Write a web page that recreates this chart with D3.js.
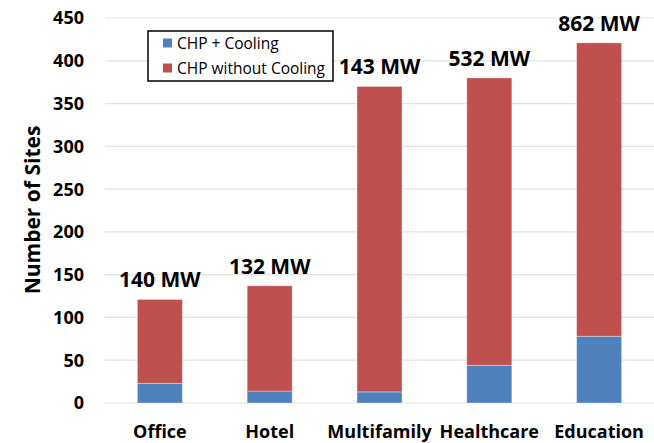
<!DOCTYPE html>
<html>
<head>
<meta charset="utf-8">
<script src="https://cdn.jsdelivr.net/npm/d3@7"></script>
<style>
  body { margin: 0; background: #fff; }
  text { font-family: "Open Sans", sans-serif; }
</style>
</head>
<body>
<script>
'use strict';

var categories = ["Office", "Hotel", "Multifamily", "Healthcare", "Education"];
var withCooling = [23, 14, 13, 44, 78];
var withoutCooling = [98, 123, 357, 336, 343];
var capacityLabels = ["140 MW", "132 MW", "143 MW", "532 MW", "862 MW"];
var yTicks = [0, 50, 100, 150, 200, 250, 300, 350, 400, 450];
var seriesNames = ["CHP + Cooling", "CHP without Cooling"];
var seriesColors = ["#4f81bd", "#c0504d"];

var width = 654,
    height = 443;

var margin = { top: 18, right: 0, bottom: 40, left: 105 };

var svg = d3.select("body")
    .append("svg")
    .attr("width", width)
    .attr("height", height);

var x = d3.scaleBand()
    .domain(categories)
    .range([margin.left, width - margin.right])
    .paddingInner(0.59)
    .paddingOuter(0.295);

var y = d3.scaleLinear()
    .domain([0, 450])
    .range([height - margin.bottom, margin.top]);

// gridlines
svg.append("g")
    .selectAll("line")
    .data(yTicks)
    .enter()
    .append("line")
    .attr("x1", margin.left)
    .attr("x2", width)
    .attr("y1", d => y(d))
    .attr("y2", d => y(d))
    .attr("stroke", "#e3e3e3")
    .attr("stroke-width", 1.2);

// y tick labels
svg.append("g")
    .selectAll("text")
    .data(yTicks)
    .enter()
    .append("text")
    .attr("x", 84)
    .attr("y", d => y(d))
    .attr("dy", "0.36em")
    .attr("text-anchor", "end")
    .attr("font-size", 18)
    .attr("font-weight", "bold")
    .attr("fill", "#000")
    .text(d => d);

// stacked bars
var rows = categories.map((c, i) => ({ cat: c, cool: withCooling[i], noCool: withoutCooling[i] }));
var stacked = d3.stack().keys(["cool", "noCool"])(rows);

svg.append("g")
    .selectAll("g")
    .data(stacked)
    .enter()
    .append("g")
    .attr("fill", (d, i) => seriesColors[i])
    .selectAll("rect")
    .data(d => d)
    .enter()
    .append("rect")
    .attr("x", d => x(d.data.cat))
    .attr("width", x.bandwidth())
    .attr("y", d => y(d[1]))
    .attr("height", d => y(d[0]) - y(d[1]))
    .attr("stroke", "rgba(255,255,255,0.35)")
    .attr("stroke-width", 1);

// MW labels above bars
svg.append("g")
    .selectAll("text")
    .data(rows)
    .enter()
    .append("text")
    .attr("x", d => x(d.cat) + x.bandwidth() / 2)
    .attr("y", d => y(d.cool + d.noCool) - 12)
    .attr("text-anchor", "middle")
    .attr("font-size", 21)
    .attr("font-weight", "bold")
    .attr("fill", "#000")
    .text((d, i) => capacityLabels[i]);

// category labels
svg.append("g")
    .selectAll("text")
    .data(categories)
    .enter()
    .append("text")
    .attr("x", d => x(d) + x.bandwidth() / 2)
    .attr("y", 438)
    .attr("text-anchor", "middle")
    .attr("font-size", 18)
    .attr("font-weight", "bold")
    .attr("fill", "#000")
    .text(d => d);

// y axis title
svg.append("text")
    .attr("transform", "translate(40," + 210 + ") rotate(-90)")
    .attr("text-anchor", "middle")
    .attr("font-size", 21)
    .attr("font-weight", "bold")
    .attr("fill", "#000")
    .text("Number of Sites");

// legend
var legend = svg.append("g").attr("transform", "translate(148,31)");
legend.append("rect")
    .attr("width", 185)
    .attr("height", 50)
    .attr("fill", "#fff")
    .attr("stroke", "#000")
    .attr("stroke-width", 1.5);

var items = legend.selectAll("g.item")
    .data(seriesNames)
    .enter()
    .append("g")
    .attr("class", "item")
    .attr("transform", (d, i) => "translate(15," + (12 + i * 25) + ")");

items.append("rect")
    .attr("y", -4.5)
    .attr("width", 9)
    .attr("height", 9)
    .attr("fill", (d, i) => seriesColors[i]);

items.append("text")
    .attr("x", 14)
    .attr("dy", "0.36em")
    .attr("font-size", 15.5)
    .attr("fill", "#000")
    .text(d => d);
</script>
</body>
</html>
